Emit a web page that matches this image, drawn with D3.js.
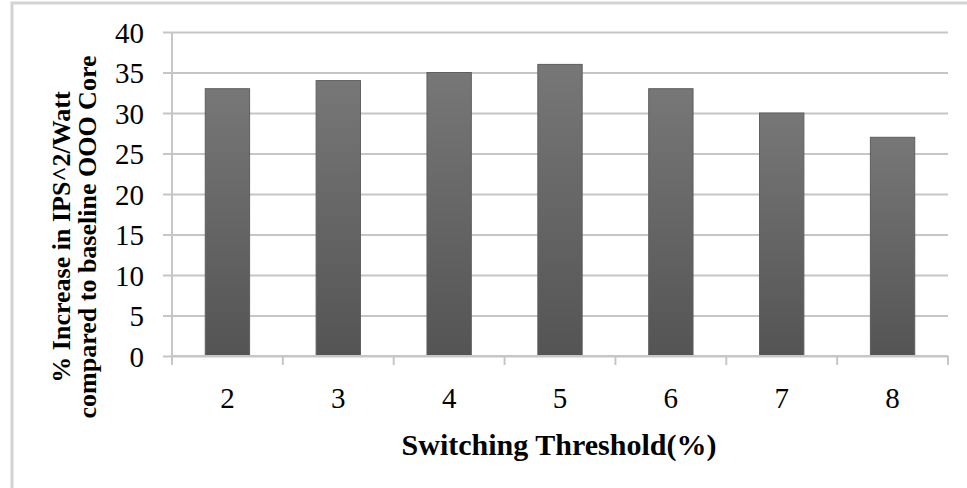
<!DOCTYPE html>
<html>
<head>
<meta charset="utf-8">
<script src="https://cdn.jsdelivr.net/npm/d3@7"></script>
<style>
  html, body { margin: 0; padding: 0; background: #fff; }
  svg { display: block; }
  text { font-family: "Liberation Serif", "Times New Roman", serif; fill: #000; }
</style>
</head>
<body>
<script>
// Switching threshold (%) and the gain in IPS^2/Watt over the baseline OOO core
const categories = ["2", "3", "4", "5", "6", "7", "8"];
const increase = [33, 34, 35, 36, 33, 30, 27];
const yTicks = [0, 5, 10, 15, 20, 25, 30, 35, 40];
const xTitle = "Switching Threshold(%)";
const yTitleLines = ["% Increase in IPS^2/Watt", "compared to baseline OOO Core"];

const W = 967, H = 488;
const margin = { left: 172, right: 19, top: 32, bottom: 132 };
const serif = "Liberation Serif, Times New Roman, serif";

const svg = d3.select("body").append("svg")
  .attr("width", W).attr("height", H);

// Frame around the chart
svg.append("rect")
  .attr("x", 12).attr("y", 3)
  .attr("width", W + 20).attr("height", H + 20)
  .attr("fill", "none").attr("stroke", "#d3d3d3").attr("stroke-width", 3);

const x = d3.scaleBand()
  .domain(categories)
  .range([margin.left, W - margin.right])
  .paddingInner(0.6).paddingOuter(0.3);

const y = d3.scaleLinear()
  .domain([0, 40])
  .range([H - margin.bottom, margin.top]);

// Bar fill: lighter gray at the top, darker at the base
const grad = svg.append("defs").append("linearGradient")
  .attr("id", "barFill").attr("x1", 0).attr("y1", 0).attr("x2", 0).attr("y2", 1);
grad.append("stop").attr("offset", "0%").attr("stop-color", "#777777");
grad.append("stop").attr("offset", "100%").attr("stop-color", "#545454");

// Horizontal gridlines, extended left past the axis as tick marks
const yAxis = d3.axisLeft(y)
  .tickValues(yTicks)
  .tickSize(-(W - margin.right - margin.left))
  .tickSizeOuter(0)
  .tickPadding(28)
  .tickFormat(d3.format("d"));

const gy = svg.append("g")
  .attr("transform", `translate(${margin.left},0)`)
  .call(yAxis)
  .attr("font-family", serif)
  .attr("font-size", 29);
gy.select(".domain").remove();
gy.selectAll(".tick line")
  .attr("x1", -9)
  .attr("stroke", "#c6c6c6").attr("stroke-width", 2);
gy.selectAll(".tick text")
  .attr("fill", "#000")
  .attr("dy", "0.36em");

// Vertical axis line
svg.append("line")
  .attr("x1", margin.left).attr("x2", margin.left)
  .attr("y1", y(40)).attr("y2", y(0))
  .attr("stroke", "#c6c6c6").attr("stroke-width", 2);

// Bars
svg.append("g").selectAll("rect")
  .data(increase)
  .join("rect")
  .attr("x", (d, i) => x(categories[i]))
  .attr("y", d => y(d))
  .attr("width", x.bandwidth())
  .attr("height", d => y(0) - y(d))
  .attr("fill", "url(#barFill)")
  .attr("stroke", "#5e5e5e").attr("stroke-width", 1);

// Category axis: boundary ticks between bars
const step = x.step();
const xBase = y(0);
const gx = svg.append("g");
gx.append("line")
  .attr("x1", margin.left).attr("x2", W - margin.right)
  .attr("y1", xBase).attr("y2", xBase)
  .attr("stroke", "#c6c6c6").attr("stroke-width", 2);
gx.selectAll(".bound")
  .data(d3.range(categories.length + 1))
  .join("line")
  .attr("x1", i => margin.left + i * step)
  .attr("x2", i => margin.left + i * step)
  .attr("y1", xBase).attr("y2", xBase + 9)
  .attr("stroke", "#c6c6c6").attr("stroke-width", 2);
gx.selectAll(".cat")
  .data(categories)
  .join("text")
  .attr("x", d => x(d) + x.bandwidth() / 2)
  .attr("y", 408)
  .attr("text-anchor", "middle")
  .attr("font-family", serif)
  .attr("font-size", 29)
  .text(d => d);

// Axis titles
svg.append("text")
  .attr("x", 559).attr("y", 455)
  .attr("text-anchor", "middle")
  .attr("font-family", serif)
  .attr("font-size", 30).attr("font-weight", "bold")
  .text(xTitle);

const yt = svg.append("text")
  .attr("transform", "translate(70,237) rotate(-90)")
  .attr("text-anchor", "middle")
  .attr("font-family", serif)
  .attr("font-size", 26).attr("font-weight", "bold");
yTitleLines.forEach((line, i) => {
  yt.append("tspan").attr("x", 0).attr("dy", i === 0 ? 0 : 26).text(line);
});
</script>
</body>
</html>
